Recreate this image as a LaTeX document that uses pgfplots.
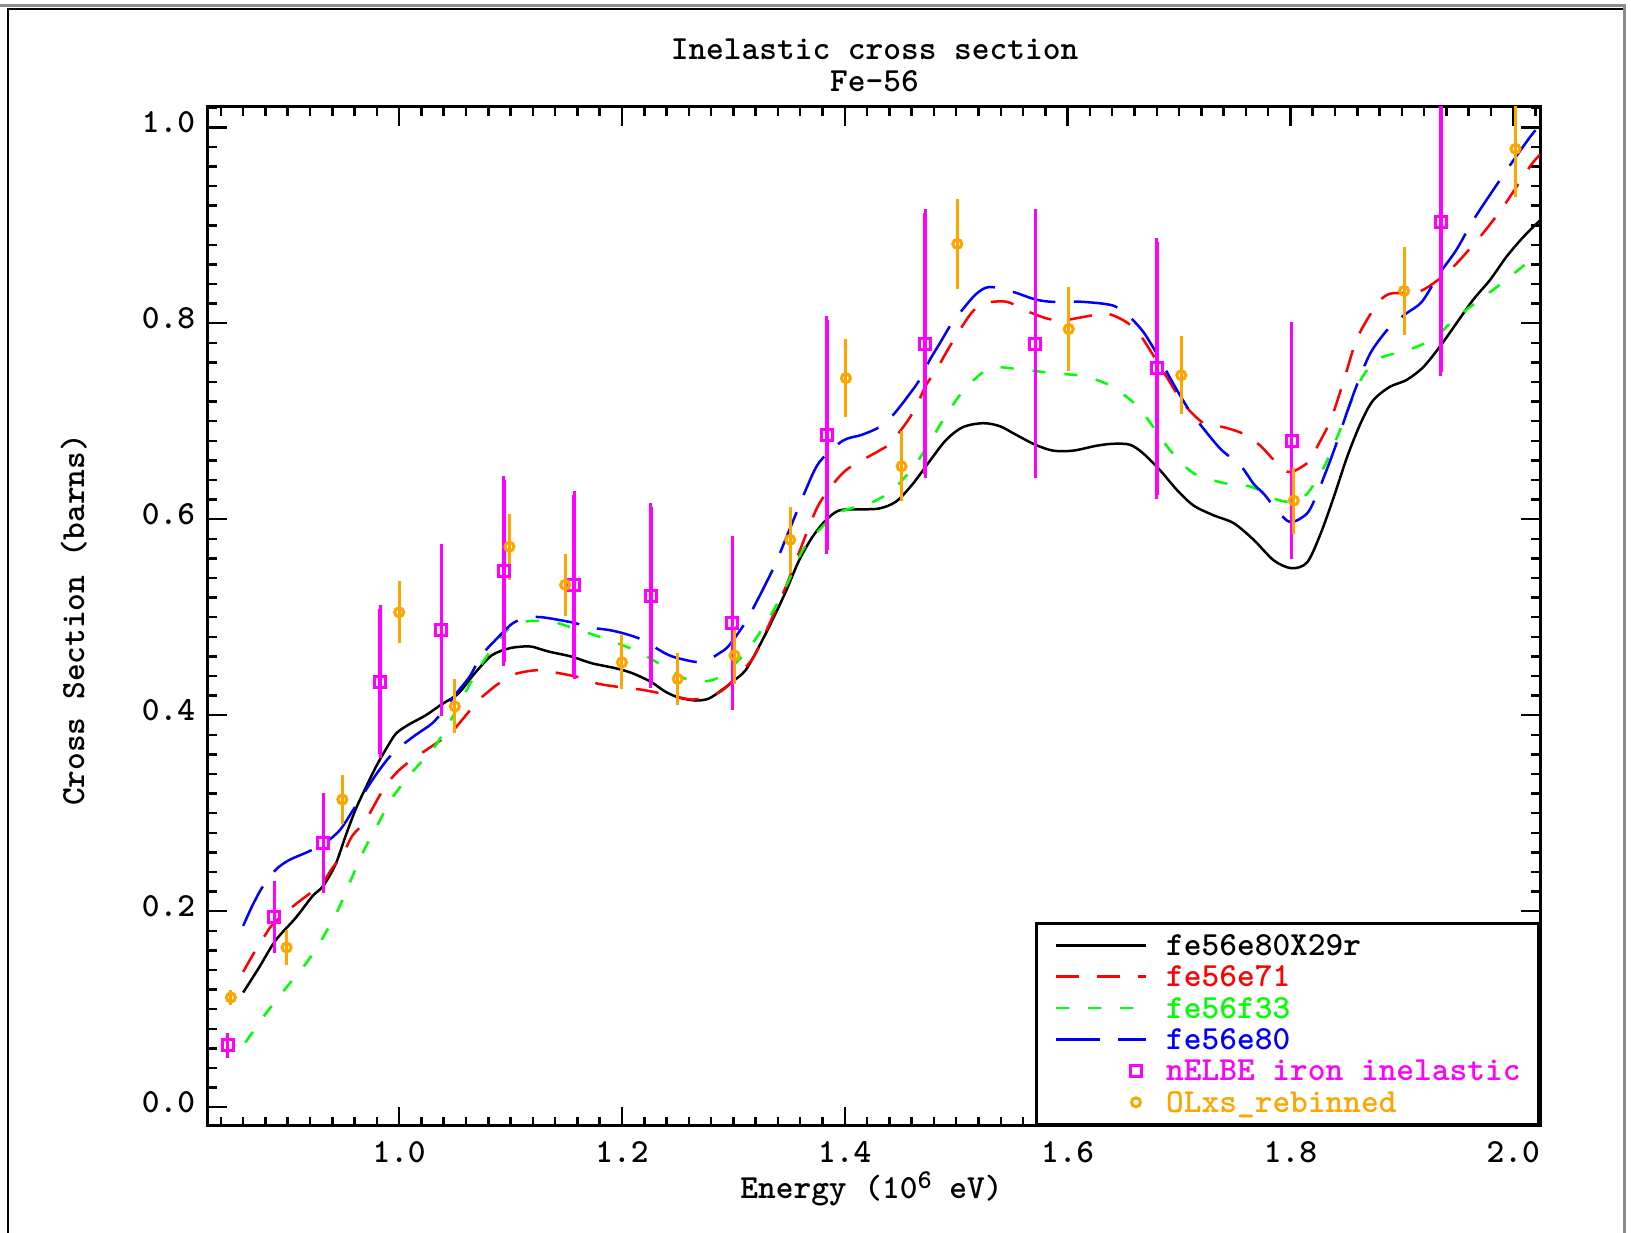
\documentclass[border=0pt]{standalone}
\usepackage{fontspec}
\usepackage{pgfplots}
\pgfplotsset{compat=1.18}
\usepackage{pgfplotstable}
\definecolor{cmag}{RGB}{255,0,255}
\definecolor{corange}{RGB}{255,165,0}
\definecolor{cgreen}{RGB}{0,255,0}
\definecolor{cred}{RGB}{255,0,0}
\definecolor{cblue}{RGB}{0,0,255}
\newcommand\lf{\fontsize{9.6}{11}\selectfont\ttfamily\bfseries}
\pgfplotsset{
  lineleg/.style={legend image code/.code={\draw[##1] (0mm,0mm) -- (9mm,0mm);}},
  markleg/.style={legend image code/.code={\path[draw=none,fill=none] (0mm,0mm) (9mm,0mm); \draw[##1] plot coordinates {(8mm,0mm)};}},
}

\pgfplotstableread{
x y
0.860 0.117
0.874 0.142
0.889 0.170
0.907 0.193
0.922 0.215
0.932 0.226
0.943 0.248
0.952 0.277
0.961 0.304
0.970 0.326
0.979 0.347
0.988 0.365
0.997 0.381
1.008 0.390
1.024 0.400
1.038 0.411
1.053 0.422
1.068 0.443
1.083 0.461
1.098 0.468
1.110 0.470
1.119 0.470
1.134 0.465
1.154 0.460
1.173 0.453
1.194 0.448
1.209 0.443
1.226 0.434
1.239 0.424
1.251 0.418
1.266 0.415
1.278 0.417
1.290 0.426
1.299 0.434
1.311 0.446
1.323 0.470
1.335 0.497
1.347 0.526
1.359 0.558
1.371 0.582
1.383 0.599
1.395 0.609
1.413 0.610
1.431 0.611
1.446 0.618
1.461 0.636
1.476 0.659
1.491 0.681
1.506 0.694
1.524 0.698
1.539 0.695
1.554 0.686
1.571 0.676
1.587 0.670
1.605 0.670
1.626 0.675
1.641 0.677
1.656 0.676
1.668 0.667
1.683 0.650
1.698 0.630
1.713 0.614
1.731 0.604
1.749 0.596
1.767 0.579
1.785 0.558
1.801 0.550
1.815 0.556
1.827 0.585
1.839 0.623
1.851 0.664
1.863 0.698
1.874 0.721
1.889 0.735
1.904 0.742
1.919 0.755
1.934 0.776
1.949 0.800
1.964 0.824
1.979 0.844
1.994 0.868
2.009 0.888
2.024 0.905
}\blk

\pgfplotstableread{
x y
0.860 0.138
0.869 0.156
0.880 0.176
0.887 0.187
0.907 0.207
0.922 0.220
0.932 0.230
0.940 0.244
0.949 0.257
0.958 0.277
0.969 0.291
0.982 0.317
0.989 0.330
1.000 0.344
1.012 0.355
1.025 0.365
1.038 0.375
1.048 0.384
1.060 0.400
1.070 0.414
1.080 0.424
1.089 0.432
1.104 0.442
1.125 0.446
1.143 0.443
1.164 0.438
1.179 0.432
1.209 0.427
1.218 0.426
1.245 0.420
1.263 0.416
1.281 0.420
1.293 0.428
1.311 0.449
1.320 0.463
1.335 0.500
1.347 0.531
1.362 0.575
1.374 0.609
1.383 0.626
1.401 0.650
1.431 0.670
1.440 0.677
1.455 0.698
1.464 0.715
1.473 0.737
1.482 0.752
1.494 0.776
1.512 0.808
1.524 0.820
1.545 0.822
1.560 0.814
1.581 0.805
1.596 0.803
1.617 0.807
1.635 0.810
1.653 0.801
1.665 0.788
1.677 0.767
1.689 0.745
1.704 0.718
1.722 0.698
1.740 0.694
1.758 0.687
1.773 0.675
1.788 0.657
1.800 0.648
1.818 0.660
1.824 0.674
1.836 0.701
1.848 0.742
1.860 0.785
1.878 0.820
1.889 0.830
1.904 0.831
1.919 0.834
1.943 0.854
1.970 0.888
1.991 0.919
2.015 0.960
2.024 0.972
}\red

\pgfplotstableread{
x y
0.862 0.066
0.880 0.095
0.898 0.121
0.916 0.146
0.931 0.172
0.945 0.201
0.956 0.230
0.968 0.261
0.981 0.289
0.994 0.316
1.011 0.341
1.030 0.365
1.043 0.388
1.058 0.420
1.070 0.445
1.085 0.470
1.104 0.493
1.134 0.496
1.161 0.487
1.185 0.478
1.212 0.466
1.236 0.451
1.260 0.436
1.284 0.437
1.308 0.460
1.323 0.483
1.338 0.511
1.350 0.538
1.362 0.568
1.377 0.589
1.395 0.607
1.424 0.617
1.444 0.631
1.464 0.657
1.479 0.684
1.493 0.710
1.508 0.733
1.530 0.754
1.557 0.753
1.587 0.749
1.614 0.746
1.639 0.736
1.662 0.716
1.677 0.694
1.693 0.669
1.713 0.647
1.740 0.637
1.765 0.633
1.788 0.620
1.803 0.618
1.815 0.626
1.830 0.653
1.842 0.684
1.863 0.742
1.880 0.764
1.904 0.772
1.928 0.784
1.949 0.806
1.970 0.824
1.991 0.842
2.012 0.861
2.024 0.868
}\grn

\pgfplotstableread{
x y
0.860 0.185
0.868 0.205
0.877 0.224
0.889 0.242
0.901 0.252
0.919 0.261
0.934 0.270
0.947 0.283
0.958 0.302
0.967 0.318
0.979 0.339
0.991 0.357
1.000 0.367
1.015 0.380
1.030 0.392
1.042 0.408
1.051 0.422
1.063 0.439
1.074 0.461
1.085 0.475
1.101 0.493
1.113 0.499
1.128 0.500
1.158 0.494
1.167 0.490
1.188 0.487
1.203 0.483
1.218 0.477
1.239 0.463
1.251 0.458
1.272 0.454
1.287 0.463
1.296 0.471
1.311 0.495
1.320 0.514
1.329 0.534
1.338 0.555
1.347 0.580
1.356 0.605
1.365 0.630
1.377 0.658
1.398 0.680
1.415 0.686
1.431 0.694
1.443 0.706
1.455 0.723
1.467 0.742
1.476 0.762
1.485 0.779
1.496 0.800
1.505 0.813
1.518 0.830
1.530 0.837
1.551 0.832
1.569 0.825
1.584 0.822
1.611 0.822
1.641 0.818
1.656 0.806
1.668 0.791
1.680 0.769
1.695 0.738
1.707 0.715
1.716 0.701
1.737 0.672
1.755 0.655
1.767 0.636
1.776 0.626
1.788 0.609
1.800 0.597
1.815 0.606
1.824 0.626
1.830 0.643
1.839 0.670
1.851 0.710
1.860 0.738
1.872 0.770
1.889 0.796
1.904 0.810
1.918 0.822
1.934 0.851
1.949 0.875
1.964 0.905
1.982 0.936
2.000 0.966
2.015 0.990
2.020 0.997
}\blu

\pgfplotstableread{
x y e
0.846 0.063 0.009
0.888 0.194 0.033
0.932 0.270 0.047
0.983 0.434 0.074
1.038 0.487 0.084
1.094 0.547 0.093
1.157 0.533 0.0915
1.226 0.522 0.090
1.299 0.494 0.085
1.384 0.686 0.117
1.472 0.779 0.133
1.571 0.779 0.133
1.680 0.754 0.129
1.801 0.680 0.117
1.935 0.903 0.153
}\nelbe

\pgfplotstableread{
x y e
0.849 0.112 0.004
0.899 0.163 0.014
0.949 0.314 0.021
1.000 0.505 0.028
1.050 0.409 0.024
1.099 0.572 0.030
1.149 0.533 0.028
1.200 0.454 0.024
1.250 0.437 0.023
1.301 0.461 0.026
1.351 0.579 0.030
1.401 0.744 0.036
1.451 0.654 0.032
1.501 0.881 0.042
1.601 0.794 0.039
1.702 0.747 0.036
1.803 0.619 0.030
1.902 0.833 0.041
2.002 0.978 0.046
}\olxs

\begin{document}
\begin{tikzpicture}[font=\lf]
\useasboundingbox (0mm,0mm) rectangle (163.1mm,123.3mm);
\fill[white] (0mm,0mm) rectangle (163.1mm,123.3mm);
\draw[black!45, line width=0.3mm] (0mm,122.7mm) -- (162.46mm,122.7mm) -- (162.46mm,0mm);
\draw[black, line width=0.25mm] (0.8mm,0mm) -- (0.8mm,122.4mm) -- (162.3mm,122.4mm);
\begin{axis}[
  at={(20.75mm,10.72mm)}, anchor=south west,
  width=133.25mm, height=101.91mm, scale only axis,
  xmin=0.828, xmax=2.024, ymin=-0.019, ymax=1.021,
  axis line style={line width=0.3mm},
  xtick={1,1.2,1.4,1.6,1.8,2}, ytick={0,0.2,0.4,0.6,0.8,1},
  minor xtick={0.84,0.86,...,2.02}, minor ytick={0,0.02,...,1.02},
  tick align=inside, tick pos=both,
  major tick length=1.9mm, minor tick length=0.9mm,
  every tick/.style={black, line width=0.25mm},
  /pgf/number format/assume math mode=true,
  tick label style={font=\lf},
  xticklabel style={/pgf/number format/fixed, /pgf/number format/fixed zerofill, /pgf/number format/precision=1, yshift=-0.3mm},
  yticklabel style={/pgf/number format/fixed, /pgf/number format/fixed zerofill, /pgf/number format/precision=1, yshift=0.5mm},
  lineleg,
  legend cell align=left,
  legend style={at={(1,0)}, anchor=south east, draw=black, line width=0.3mm, fill=white,
    inner xsep=1.8mm, inner ysep=0.63mm, row sep=0pt, column sep=1.9mm,
    nodes={inner sep=0pt, text height=2.57mm, text depth=0.57mm}, font=\lf},
]
\addplot[black, line width=0.25mm, smooth, tension=0.5] table {\blk};
\addlegendentry{fe56e80X29r}
\addplot[cred, line width=0.25mm, smooth, tension=0.5, dash pattern=on 2.3mm off 1.8mm] table {\red};
\addlegendentry{\textcolor{cred}{fe56e71}}
\addplot[cgreen, line width=0.25mm, smooth, tension=0.5, dash pattern=on 1.3mm off 1.9mm] table {\grn};
\addlegendentry{\textcolor{cgreen}{fe56f33}}
\addplot[cblue, line width=0.25mm, smooth, tension=0.5, dash pattern=on 4.4mm off 1.85mm] table {\blu};
\addlegendentry{\textcolor{cblue}{fe56e80}}
\addplot[cmag, only marks, mark=square, mark size=0.55mm, line width=0.3mm, markleg,
  error bars/.cd, y dir=both, y explicit,
  error bar style={line width=0.35mm, cmag},
  error mark options={line width=0.3mm, mark size=0.4mm, cmag}]
  table[x=x, y=y, y error=e] {\nelbe};
\addlegendentry{\textcolor{cmag}{nELBE iron inelastic}}
\addplot[corange, only marks, mark=o, mark size=0.45mm, line width=0.3mm, markleg,
  error bars/.cd, y dir=both, y explicit,
  error bar style={line width=0.3mm, corange},
  error mark options={line width=0.3mm, mark size=0.35mm, corange}]
  table[x=x, y=y, y error=e] {\olxs};
\addlegendentry{\textcolor{corange}{OLxs\_rebinned}}
\end{axis}
\node[anchor=base] at (87.45mm,117.3mm) {Inelastic cross section};
\node[anchor=base] at (87.45mm,114.1mm) {Fe-56};
\node[anchor=base] at (87.15mm,3.4mm) {Energy (10\raisebox{1mm}{\fontsize{7.7}{8}\selectfont 6} eV)};
\node[rotate=90, anchor=base] at (8.4mm,61.3mm) {Cross Section (barns)};
\end{tikzpicture}
\end{document}
